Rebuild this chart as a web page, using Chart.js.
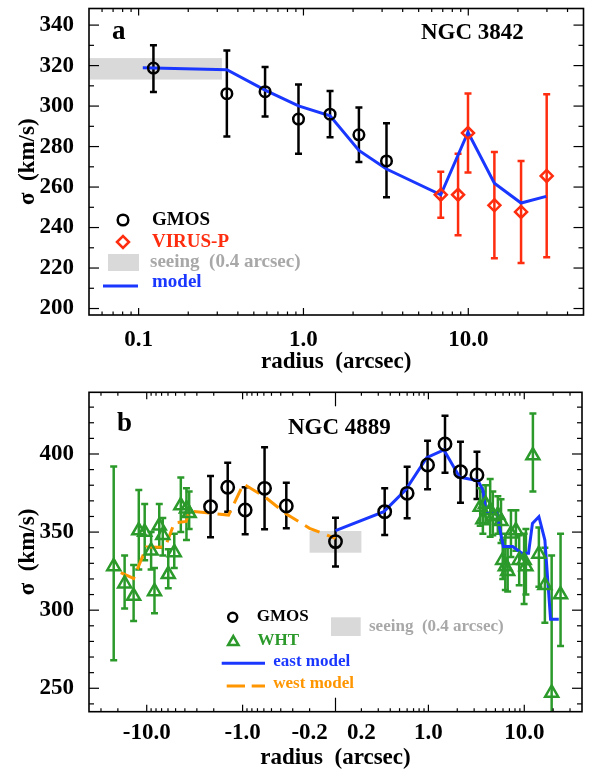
<!DOCTYPE html>
<html>
<head>
<meta charset="utf-8">
<script src="https://cdn.jsdelivr.net/npm/chart.js@4.4.1/dist/chart.umd.min.js"></script>
<style>
  html, body { margin: 0; padding: 0; background: #fff; }
  #wrap { position: relative; width: 592px; height: 773px; }
  canvas { position: absolute; left: 0; }
  #chartA { top: 0; }
  #chartB { top: 380px; }
</style>
</head>
<body>
<div id="wrap">
  <canvas id="chartA" width="592" height="380"></canvas>
  <canvas id="chartB" width="592" height="393"></canvas>
</div>
<script>
// ---- panel a : NGC 3842 ----
const aGmosR = [0.123, 0.343, 0.585, 0.933, 1.45, 2.17, 3.19];
const aGmosS = [318.8, 306.1, 307.1, 293.6, 296.0, 285.8, 272.9];
const aGmosHi = [330.1, 327.4, 319.3, 310.6, 307.4, 299.3, 291.5];
const aGmosLo = [306.9, 285.0, 294.9, 276.5, 284.6, 272.4, 255.0];

const aVirusR = [6.81, 8.67, 9.96, 14.4, 20.9, 29.9];
const aVirusS = [256.2, 256.2, 286.7, 251.0, 247.7, 265.5];
const aVirusHi = [267.6, 276.5, 306.2, 277.3, 272.9, 305.8];
const aVirusLo = [244.8, 236.2, 267.2, 224.8, 222.5, 225.3];

const aModelR = [0.106, 0.343, 0.585, 0.933, 1.45, 2.17, 3.19, 6.81, 9.96, 14.4, 20.9, 29.7];
const aModelS = [318.9, 318.0, 307.9, 300.1, 295.2, 278.1, 268.9, 256.2, 287.1, 261.9, 252.1, 255.4];

const aSeeingR = [0.05, 0.32];
const aSeeingS = [313.1, 323.7];

const aXLabels = [0.1, 1, 10];
const aYLabels = [200, 220, 240, 260, 280, 300, 320, 340];

// ---- panel b : NGC 4889 (negative radius = west) ----
const bGmosR = [-2.16, -1.43, -0.94, -0.59, -0.35, 0, 0.35, 0.60, 0.98, 1.49, 2.16, 3.21];
const bGmosS = [366.3, 378.7, 364.1, 378.0, 366.7, 343.9, 363.1, 374.8, 393.0, 406.4, 388.7, 386.6];
const bGmosHi = [385.9, 394.4, 378.7, 404.3, 381.6, 359.2, 378.0, 391.9, 408.5, 424.5, 407.9, 401.5];
const bGmosLo = [346.7, 363.1, 348.6, 351.8, 352.4, 327.9, 348.1, 358.8, 377.4, 388.0, 368.8, 371.2];

const bWhtR = [-22.1, -17.0, -13.7, -12.1, -10.5, -9.0, -8.3, -7.4, -6.8, -5.96, -5.16, -4.41, -3.85, -3.61,
  3.47, 3.70, 3.95, 4.41, 4.70, 5.30, 5.72, 5.96, 6.34, 6.71, 7.26, 8.18, 8.85, 9.96, 10.4, 12.3, 14.2, 16.4, 19.3, 23.9];
const bWhtS = [328, 317, 309, 351, 350, 338, 312, 354, 348, 323, 337, 367, 365, 362,
  366, 358, 368, 364, 360, 361, 357, 332, 328, 325, 349, 351, 332, 332, 328, 399, 336, 316, 247, 310];
const bWhtHi = [392, 335, 329, 377, 368, 350, 327, 368, 359, 339, 349, 385, 378, 376,
  378, 376, 380, 384, 376, 373, 371, 345, 349, 340, 364, 364, 348, 349, 352, 426, 353, 340, 335, 349];
const bWhtLo = [268, 301, 293, 326, 332, 326, 298, 340, 335, 314, 327, 350, 345, 352,
  354, 349, 355, 347, 348, 349, 343, 320, 313, 312, 334, 338, 316, 304, 310, 376, 315, 292, 200, 277];

const bEastR = [0, 0.343, 0.58, 0.96, 1.45, 2.12, 3.29, 3.70, 4.01, 5.16, 6.05, 7.57, 9.44, 11.07, 12.17, 14.2, 16.4, 18.8, 22.9];
const bEastS = [350.9, 363.1, 377.0, 397.6, 402.6, 385.1, 382.9, 377.0, 362.0, 362.0, 340.7, 340.7, 336.4, 336.4, 355.6, 359.9, 344.9, 294.2, 294.2];

const bWestR = [-18.67, -13.7, -10.07, -7.4, -6.40, -5.16, -3.88, -3.61, -1.40, -0.98, -0.59, -0.35, -0.2, 0];
const bWestS = [324.0, 320.3, 340.5, 340.3, 340.5, 355.8, 356.8, 363.5, 360.9, 380.8, 372.7, 361.6, 352.4, 346.0];

const bSeeingR = [-0.2, 0.2];
const bSeeingS = [336.8, 350.7];

const bXLabels = [-10, -1, -0.2, 0.2, 1, 10];
const bYLabels = [250, 300, 350, 400];

// ---- style ----
const FONT = "'Liberation Serif', 'Times New Roman', serif";
const BLUE = "#1a37ff";
const RED = "#ff2d0f";
const GREEN = "#2b9a2b";
const ORANGE = "#ff9600";
const GREY_BOX = "#d9d9d9";
const GREY_TXT = "#a8a8a8";

// symmetric log axis of panel b: linear inside |r| < 0.2
const LIN_R = 0.2;
const LIN_U = 0.27;
function symlog(r) {
  const a = Math.abs(r);
  if (a <= LIN_R) return (r / LIN_R) * LIN_U;
  return Math.sign(r) * (LIN_U + Math.log10(a / LIN_R));
}

function pts(xs, ys, fx) {
  return xs.map((x, i) => ({ x: fx ? fx(x) : x, y: ys[i] }));
}

function logMinors(decades, lo, hi) {
  const out = [];
  decades.forEach((d) => {
    for (let m = 2; m <= 9; m++) {
      const v = m * d;
      if (v > lo && v < hi) out.push(v);
    }
  });
  return out;
}

// inward ticks on all four sides + frame
const frameTicks = {
  id: "frameTicks",
  afterDraw(chart, args, opts) {
    const { ctx, chartArea: ca, scales } = chart;
    const line = (x1, y1, x2, y2) => {
      ctx.beginPath();
      ctx.moveTo(x1, y1);
      ctx.lineTo(x2, y2);
      ctx.stroke();
    };
    ctx.save();
    ctx.strokeStyle = "#000";
    ctx.lineWidth = 1.2;
    opts.xTicks.forEach(([v, len]) => {
      const px = scales.x.getPixelForValue(v);
      line(px, ca.bottom, px, ca.bottom - len);
      line(px, ca.top, px, ca.top + len);
    });
    opts.yTicks.forEach(([v, len]) => {
      const py = scales.y.getPixelForValue(v);
      line(ca.left, py, ca.left + len, py);
      line(ca.right, py, ca.right - len, py);
    });
    ctx.lineWidth = 1.6;
    ctx.strokeRect(ca.left, ca.top, ca.right - ca.left, ca.bottom - ca.top);
    ctx.restore();
  },
};

// seeing box + error bars, drawn under the markers
const underlay = {
  id: "underlay",
  beforeDatasetsDraw(chart, args, opts) {
    const { ctx, chartArea: ca, scales: { x, y } } = chart;
    ctx.save();
    ctx.beginPath();
    ctx.rect(ca.left, ca.top, ca.right - ca.left, ca.bottom - ca.top);
    ctx.clip();

    const b = opts.box;
    const x1 = x.getPixelForValue(b.x[0]);
    const x2 = x.getPixelForValue(b.x[1]);
    const y1 = y.getPixelForValue(b.y[1]);
    const y2 = y.getPixelForValue(b.y[0]);
    ctx.fillStyle = GREY_BOX;
    ctx.fillRect(x1, y1, x2 - x1, y2 - y1);

    chart.data.datasets.forEach((ds) => {
      if (!ds.errHi) return;
      ctx.strokeStyle = ds.borderColor;
      ctx.lineWidth = 2.5;
      const c = 3.5;
      ds.data.forEach((p, i) => {
        const px = x.getPixelForValue(p.x);
        const top = y.getPixelForValue(ds.errHi[i]);
        const bot = y.getPixelForValue(ds.errLo[i]);
        ctx.beginPath();
        ctx.moveTo(px, top);
        ctx.lineTo(px, bot);
        ctx.moveTo(px - c, top);
        ctx.lineTo(px + c, top);
        ctx.moveTo(px - c, bot);
        ctx.lineTo(px + c, bot);
        ctx.stroke();
      });
    });
    ctx.restore();
  },
};

function text(ctx, str, x, y, size, color) {
  ctx.font = `bold ${size}px ${FONT}`;
  ctx.fillStyle = color;
  ctx.textAlign = "left";
  ctx.textBaseline = "middle";
  ctx.fillText(str, x, y);
}

function marker(ctx, style, radius, color, x, y) {
  ctx.save();
  ctx.strokeStyle = color;
  ctx.fillStyle = "rgba(0,0,0,0)";
  ctx.lineWidth = 2.5;
  Chart.helpers.drawPoint(ctx, { pointStyle: style, radius, borderWidth: 2.5, rotation: 0 }, x, y);
  ctx.restore();
}

function axisTitle(str) {
  return { display: true, text: str, color: "#000", font: { family: FONT, size: 23, weight: "bold" } };
}

function tickFont() {
  return { family: FONT, size: 23, weight: "bold" };
}

// ---- chart a ----
const aXTicks = aXLabels.map((v) => [v, 7]).concat(logMinors([0.01, 0.1, 1, 10], 0.05, 50).map((v) => [v, 3.5]));
const aYTicks = [];
for (let v = 200; v <= 340; v += 10) aYTicks.push([v, v % 20 === 0 ? 10 : 5]);

new Chart(document.getElementById("chartA"), {
  type: "scatter",
  data: {
    datasets: [
      {
        label: "GMOS", data: pts(aGmosR, aGmosS), errHi: aGmosHi, errLo: aGmosLo,
        borderColor: "#000", backgroundColor: "rgba(0,0,0,0)", pointStyle: "circle",
        pointRadius: 5.3, borderWidth: 2.5,
      },
      {
        label: "VIRUS-P", data: pts(aVirusR, aVirusS), errHi: aVirusHi, errLo: aVirusLo,
        borderColor: RED, backgroundColor: "rgba(0,0,0,0)", pointStyle: "rectRot",
        pointRadius: 6, borderWidth: 2.5,
      },
      {
        label: "model", data: pts(aModelR, aModelS), showLine: true,
        borderColor: BLUE, borderWidth: 3, pointRadius: 0,
      },
    ],
  },
  options: {
    responsive: false,
    animation: false,
    layout: { padding: { left: 0, right: 5, top: 5, bottom: 0 } },
    plugins: {
      legend: { display: false },
      tooltip: { enabled: false },
      frameTicks: { xTicks: aXTicks, yTicks: aYTicks },
      underlay: { box: { x: aSeeingR, y: aSeeingS } },
    },
    scales: {
      x: {
        type: "logarithmic", min: 0.05, max: 50,
        grid: { display: false }, border: { display: false },
        afterBuildTicks: (s) => { s.ticks = aXLabels.map((v) => ({ value: v })); },
        afterFit: (s) => { s.height = 65; s.paddingLeft = 0; s.paddingRight = 0; },
        ticks: { color: "#000", font: tickFont(), padding: 3, maxRotation: 0, autoSkip: false,
          callback: (v) => Number(v).toFixed(1) },
        title: { ...axisTitle("radius  (arcsec)"), padding: { top: 0, bottom: 4 } },
      },
      y: {
        min: 196.8, max: 348.2,
        grid: { display: false }, border: { display: false },
        afterBuildTicks: (s) => { s.ticks = aYLabels.map((v) => ({ value: v })); },
        afterFit: (s) => { s.width = 89; s.paddingTop = 0; s.paddingBottom = 0; },
        ticks: { color: "#000", font: tickFont(), padding: 7 },
        title: { ...axisTitle("σ  (km/s)"), padding: { top: 14, bottom: 0 } },
      },
    },
  },
  plugins: [underlay, frameTicks, {
    id: "annotA",
    afterDraw(chart) {
      const ctx = chart.ctx;
      text(ctx, "a", 112, 32, 27, "#000");
      text(ctx, "NGC 3842", 421, 33, 23, "#000");
      marker(ctx, "circle", 5.3, "#000", 123, 220);
      text(ctx, "GMOS", 152, 220, 19, "#000");
      marker(ctx, "rectRot", 6, RED, 123, 242);
      text(ctx, "VIRUS-P", 152, 242, 19, RED);
      ctx.fillStyle = GREY_BOX;
      ctx.fillRect(108, 254, 31, 17);
      text(ctx, "seeing  (0.4 arcsec)", 150, 262, 19, GREY_TXT);
      ctx.strokeStyle = BLUE;
      ctx.lineWidth = 3;
      ctx.beginPath();
      ctx.moveTo(103, 286);
      ctx.lineTo(138, 286);
      ctx.stroke();
      text(ctx, "model", 152, 282, 19, BLUE);
    },
  }],
});

// ---- chart b ----
const bXTicks = [[0, 14]]
  .concat([-10, -1, 1, 10].map((v) => [symlog(v), 7]))
  .concat(logMinors([0.1, 1, 10], 0.1, 40).flatMap((v) => [[symlog(v), 3.5], [symlog(-v), 3.5]]));
const bYTicks = [];
for (let v = 240; v <= 430; v += 10) bYTicks.push([v, v % 50 === 0 ? 10 : 5]);

new Chart(document.getElementById("chartB"), {
  type: "scatter",
  data: {
    datasets: [
      {
        label: "GMOS", data: pts(bGmosR, bGmosS, symlog), errHi: bGmosHi, errLo: bGmosLo,
        borderColor: "#000", backgroundColor: "rgba(0,0,0,0)", pointStyle: "circle",
        pointRadius: 6.2, borderWidth: 2.5,
      },
      {
        label: "WHT", data: pts(bWhtR, bWhtS, symlog), errHi: bWhtHi, errLo: bWhtLo,
        borderColor: GREEN, backgroundColor: "rgba(0,0,0,0)", pointStyle: "triangle",
        pointRadius: 7.5, borderWidth: 2.5,
      },
      {
        label: "east model", data: pts(bEastR, bEastS, symlog), showLine: true,
        borderColor: BLUE, borderWidth: 3, pointRadius: 0,
      },
      {
        label: "west model", data: pts(bWestR, bWestS, symlog), showLine: true,
        borderColor: ORANGE, borderWidth: 3, borderDash: [16, 8], pointRadius: 0,
      },
    ],
  },
  options: {
    responsive: false,
    animation: false,
    layout: { padding: { left: 0, right: 5, top: 12.3, bottom: 0 } },
    plugins: {
      legend: { display: false },
      tooltip: { enabled: false },
      frameTicks: { xTicks: bXTicks, yTicks: bYTicks },
      underlay: { box: { x: bSeeingR.map(symlog), y: bSeeingS } },
    },
    scales: {
      x: {
        type: "linear", min: -symlog(40), max: symlog(40),
        grid: { display: false }, border: { display: false },
        afterBuildTicks: (s) => { s.ticks = bXLabels.map((v) => ({ value: symlog(v) })); },
        afterFit: (s) => { s.height = 61.3; s.paddingLeft = 0; s.paddingRight = 0; },
        ticks: { color: "#000", font: tickFont(), padding: 0, maxRotation: 0, autoSkip: false,
          callback: (v, i) => bXLabels[i].toFixed(1) },
        title: { ...axisTitle("radius  (arcsec)"), padding: { top: 0, bottom: 1.5 } },
      },
      y: {
        min: 235, max: 439.5,
        grid: { display: false }, border: { display: false },
        afterBuildTicks: (s) => { s.ticks = bYLabels.map((v) => ({ value: v })); },
        afterFit: (s) => { s.width = 89; s.paddingTop = 0; s.paddingBottom = 0; },
        ticks: { color: "#000", font: tickFont(), padding: 7 },
        title: { ...axisTitle("σ  (km/s)"), padding: { top: 14, bottom: 0 } },
      },
    },
  },
  plugins: [underlay, frameTicks, {
    id: "annotB",
    afterDraw(chart) {
      const ctx = chart.ctx;
      text(ctx, "b", 117, 44, 27, "#000");
      text(ctx, "NGC 4889", 288, 48, 23, "#000");
      marker(ctx, "circle", 4.5, "#000", 232.7, 237.3);
      text(ctx, "GMOS", 256.7, 237, 17, "#000");
      marker(ctx, "triangle", 6, GREEN, 233.3, 262);
      text(ctx, "WHT", 257.5, 261, 17, GREEN);
      ctx.lineWidth = 3;
      ctx.strokeStyle = BLUE;
      ctx.beginPath();
      ctx.moveTo(221.7, 283.3);
      ctx.lineTo(265, 283.3);
      ctx.stroke();
      text(ctx, "east model", 273.3, 282, 17, BLUE);
      ctx.strokeStyle = ORANGE;
      ctx.beginPath();
      ctx.moveTo(226.7, 306);
      ctx.lineTo(245, 306);
      ctx.moveTo(251.7, 306);
      ctx.lineTo(265, 306);
      ctx.stroke();
      text(ctx, "west model", 273.3, 304, 17, ORANGE);
      ctx.fillStyle = GREY_BOX;
      ctx.fillRect(331, 237.3, 29.7, 18.7);
      text(ctx, "seeing  (0.4 arcsec)", 369, 246.7, 17, GREY_TXT);
    },
  }],
});
</script>
</body>
</html>
